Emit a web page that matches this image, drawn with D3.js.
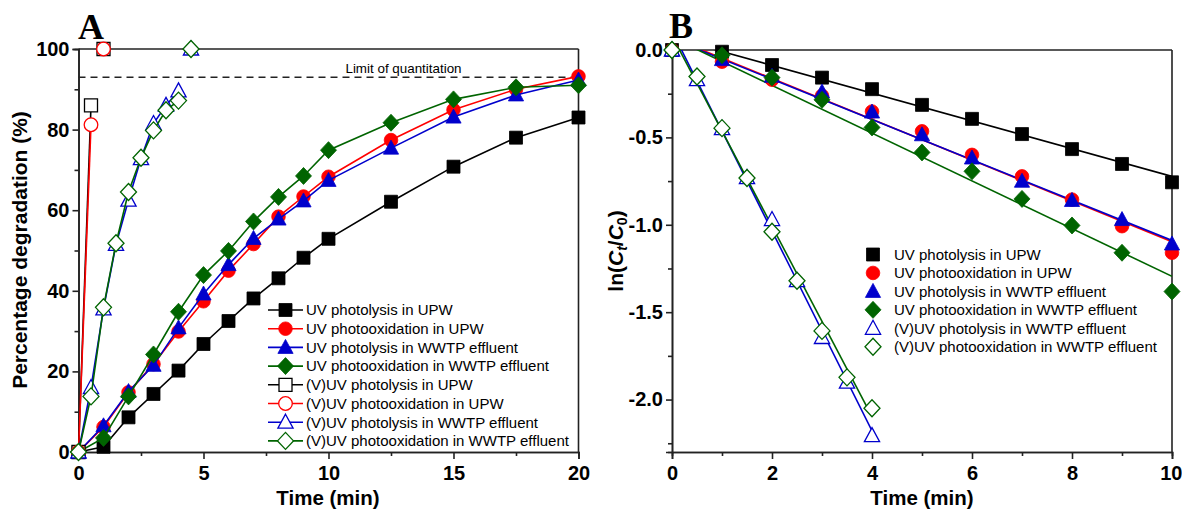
<!DOCTYPE html>
<html><head><meta charset="utf-8">
<script src="https://cdn.jsdelivr.net/npm/d3@7"></script>
<style>
body{margin:0;background:#fff;}
svg text{font-family:"Liberation Sans",Arial,sans-serif;}
svg text.serif{font-family:"Liberation Serif","Times New Roman",serif;}
</style></head>
<body><svg id="c" width="1182" height="511"></svg>
<script>
// ---------- DATA ----------
const seriesNames = ["UV photolysis in UPW","UV photooxidation in UPW","UV photolysis in WWTP effluent","UV photooxidation in WWTP effluent","(V)UV photolysis in UPW","(V)UV photooxidation in UPW","(V)UV photolysis in WWTP effluent","(V)UV photooxidation in WWTP effluent"];
const seriesColors = ["#000000","#ff0000","#0000cc","#006400","#000000","#ff0000","#0000cc","#006400"];
const seriesShapes = ["square","circle","triangle","diamond","square","circle","triangle","diamond"];
const seriesFilled = [true,true,true,true,false,false,false,false];

// Panel A: percentage degradation
const timeA_UV = [0,1,2,3,4,5,6,7,8,9,10,12.5,15,17.5,20];
const uvPhotolysisUPW_A   = [0,1.3,8.6,14.4,20.2,26.8,32.5,38.1,43.1,48.2,52.9,62.1,70.8,78.0,83.0];
const uvPhotooxUPW_A      = [0,6.2,14.8,21.8,29.9,37.4,45.0,51.6,58.4,63.4,68.3,77.4,84.9,90.0,93.2];
const uvPhotolysisWWTP_A  = [0,6.5,15.0,21.5,30.8,39.2,46.5,53.0,57.8,62.3,67.4,75.4,83.1,88.6,92.3];
const uvPhotooxWWTP_A     = [0,3.5,13.8,24.2,34.8,43.9,49.9,57.2,63.3,68.5,74.9,81.7,87.5,90.5,91.0];
const timeA_VUV_UPW = [0,0.5];
const vuvPhotolysisUPW_A  = [0,86.0];
const vuvPhotooxUPW_A     = [0,81.2];
const timeA_VUV = [0,0.5,1,1.5,2,2.5,3,3.5,4];
const vuvPhotolysisWWTP_A = [0,16.0,35.5,51.5,62.5,72.8,81.5,86.0,89.6];
const vuvPhotooxWWTP_A    = [0,13.8,35.9,51.8,64.5,73.0,79.8,84.8,87.2];
// points above the limit of quantitation (plotted at 100 %, unconnected)
const loqTimeUPW = 1, loqTimeWWTP = 4.5, loqValue = 100;
const limitOfQuantitation = 93;

// Panel B: ln(Ct/C0)
const timeB_UV = [0,1,2,3,4,5,6,7,8,9,10];
const uvPhotolysisUPW_B  = [0,-0.010,-0.086,-0.158,-0.224,-0.314,-0.394,-0.481,-0.567,-0.652,-0.757];
const uvPhotooxUPW_B     = [0,-0.067,-0.170,-0.262,-0.352,-0.465,-0.600,-0.723,-0.856,-1.008,-1.160];
const uvPhotolysisWWTP_B = [0,-0.055,-0.150,-0.240,-0.355,-0.485,-0.618,-0.751,-0.861,-0.970,-1.110];
const uvPhotooxWWTP_B    = [0,-0.030,-0.158,-0.285,-0.443,-0.586,-0.694,-0.852,-1.004,-1.160,-1.382];
const timeB_VUV = [0,0.5,1,1.5,2,2.5,3,3.5,4];
const vuvPhotolysisWWTP_B = [0,-0.170,-0.450,-0.730,-0.970,-1.320,-1.645,-1.900,-2.206];
const vuvPhotooxWWTP_B    = [0,-0.152,-0.447,-0.732,-1.040,-1.320,-1.607,-1.873,-2.050];
// linear fits (slope, intercept, end time) for panel B
const fitSlopeB     = [-0.0794,-0.1167,-0.1153,-0.1366,-0.572,-0.545];
const fitInterceptB = [0.0707,0.0700,0.0634,0.0710,0.109,0.082];
const fitEndB       = [10,10,10,10,4,4];
const fitSeriesIdxB = [0,1,2,3,6,7];

const ticksA_X = [0,5,10,15,20], minorA_X = [2.5,7.5,12.5,17.5];
const ticksA_Y = [0,20,40,60,80,100], minorA_Y = [10,30,50,70,90];
const ticksB_X = [0,2,4,6,8,10], minorB_X = [1,3,5,7,9];
const ticksB_Y = [0,-0.5,-1.0,-1.5,-2.0], minorB_Y = [-0.25,-0.75,-1.25,-1.75,-2.25];

// ---------- DRAW ----------
const svg = d3.select("#c");
const xA = d3.scaleLinear([0,20],[78.5,578.5]);
const yA = d3.scaleLinear([0,100],[452,49]);
const xB = d3.scaleLinear([0,10],[672,1172]);
const yB = d3.scaleLinear([-2.3,0],[452,50]);

function shapePath(shape){
  if(shape==="square") return "M-6.5,-6.5H6.5V6.5H-6.5Z";
  if(shape==="circle") return d3.symbol(d3.symbolCircle, Math.PI*6.8*6.8)();
  if(shape==="triangle") return "M0,-8L7.6,6L-7.6,6Z";
  return "M0,-8.5L8,0L0,8.5L-8,0Z";
}
function drawMarkers(g, pts, i){
  g.selectAll(null).data(pts).join("path")
    .attr("d", shapePath(seriesShapes[i]))
    .attr("transform", d=>`translate(${d[0]},${d[1]})`)
    .attr("fill", seriesFilled[i]? seriesColors[i] : "#fff")
    .attr("stroke", seriesColors[i])
    .attr("stroke-width", seriesFilled[i]? 0.8 : 1.3);
}
function drawLine(g, pts, i){
  g.append("path").attr("d", d3.line()(pts)).attr("fill","none")
    .attr("stroke", seriesColors[i]).attr("stroke-width",1.6);
}
const hyphen = f => v => f(v).replace("\u2212","-");
function axes(x, y, tx, mx, ty, my, fmtX, fmtY){
  const [x0,x1] = x.range(), [y0,y1] = y.range();
  const g = svg.append("g");
  const style = a => { a.selectAll("path,line").attr("stroke","#222").attr("stroke-width",1.6);
    a.selectAll("text").attr("font-size",20).attr("font-weight","bold").attr("fill","#000"); };
  const xa = g.append("g").attr("transform",`translate(0,${y0})`).call(d3.axisBottom(x).tickValues(tx).tickSize(7).tickPadding(7).tickFormat(fmtX)).call(style);
  g.append("g").attr("transform",`translate(0,${y0})`).call(d3.axisBottom(x).tickValues(mx).tickSize(4).tickFormat("")).call(style);
  g.append("g").attr("transform",`translate(${x0},0)`).call(d3.axisLeft(y).tickValues(ty).tickSize(6).tickPadding(3).tickFormat(fmtY)).call(style);
  g.append("g").attr("transform",`translate(${x0},0)`).call(d3.axisLeft(y).tickValues(my).tickSize(4).tickFormat("")).call(style);
  g.append("line").attr("x1",x0).attr("x2",x1).attr("y1",y1).attr("y2",y1).attr("stroke","#222").attr("stroke-width",1.6);
  g.append("line").attr("x1",x1).attr("x2",x1).attr("y1",y1).attr("y2",y0).attr("stroke","#222").attr("stroke-width",1.6);
  return xa;
}

// clip path
const defs = svg.append("defs");
defs.append("clipPath").attr("id","clipB").append("rect")
  .attr("x",xB.range()[0]).attr("y",yB.range()[1]).attr("width",xB.range()[1]-xB.range()[0]).attr("height",yB.range()[0]-yB.range()[1]);

// ---- Panel A ----
axes(xA, yA, ticksA_X, minorA_X, ticksA_Y, minorA_Y, hyphen(d3.format("d")), hyphen(d3.format("d")));
const gA = svg.append("g");
gA.append("line").attr("x1",xA(0)).attr("x2",xA(20)).attr("y1",yA(limitOfQuantitation)).attr("y2",yA(limitOfQuantitation))
  .attr("stroke","#222").attr("stroke-width",1.4).attr("stroke-dasharray","7,5");
gA.append("text").attr("x",xA(13)).attr("y",yA(limitOfQuantitation)-4).attr("text-anchor","middle")
  .attr("font-size",13.4).text("Limit of quantitation");

const dataA = [
  [timeA_UV, uvPhotolysisUPW_A],[timeA_UV, uvPhotooxUPW_A],[timeA_UV, uvPhotolysisWWTP_A],[timeA_UV, uvPhotooxWWTP_A],
  [timeA_VUV_UPW, vuvPhotolysisUPW_A],[timeA_VUV_UPW, vuvPhotooxUPW_A],[timeA_VUV, vuvPhotolysisWWTP_A],[timeA_VUV, vuvPhotooxWWTP_A]
];
const loqTimes = [null,null,null,null,loqTimeUPW,loqTimeUPW,loqTimeWWTP,loqTimeWWTP];
dataA.forEach(([t,v],i)=>{
  const pts = t.map((tt,k)=>[xA(tt), yA(v[k])]);
  drawLine(gA, pts, i);
  const mk = pts.slice();
  if(loqTimes[i]!==null) mk.push([xA(loqTimes[i]), yA(loqValue)]);
  drawMarkers(gA, mk, i);
});

// legend A
const legA = svg.append("g");
seriesNames.forEach((n,i)=>{
  const y = 310 + i*18.7;
  legA.append("line").attr("x1",268).attr("x2",303).attr("y1",y).attr("y2",y).attr("stroke",seriesColors[i]).attr("stroke-width",1.6);
  drawMarkers(legA, [[285.5,y]], i);
  legA.append("text").attr("x",306).attr("y",y+5.3).attr("font-size",15).text(n);
});

// ---- Panel B ----
const xaxB = axes(xB, yB, ticksB_X, minorB_X, ticksB_Y, minorB_Y, hyphen(d3.format("d")), hyphen(d3.format(".1f")));
// keep the last x label inside the page
xaxB.selectAll("g.tick text").filter(d => d === 10).attr("text-anchor","end").attr("x", 10);
const gB = svg.append("g");
const gFit = gB.append("g").attr("clip-path","url(#clipB)");
const dataB = [
  [timeB_UV, uvPhotolysisUPW_B],[timeB_UV, uvPhotooxUPW_B],[timeB_UV, uvPhotolysisWWTP_B],[timeB_UV, uvPhotooxWWTP_B],
  [timeB_VUV, vuvPhotolysisWWTP_B],[timeB_VUV, vuvPhotooxWWTP_B]
];
dataB.forEach(([t,v],j)=>{
  const i = fitSeriesIdxB[j];
  const ts = [0, fitEndB[j]];
  drawLine(gFit, ts.map(tt=>[xB(tt), yB(fitSlopeB[j]*tt + fitInterceptB[j])]), i);
  drawMarkers(gB, t.map((tt,k)=>[xB(tt), yB(v[k])]), i);
});
// legend B
const legB = svg.append("g");
fitSeriesIdxB.forEach((i,j)=>{
  const y = 254.5 + j*18.45;
  drawMarkers(legB, [[873,y]], i);
  legB.append("text").attr("x",894).attr("y",y+5.3).attr("font-size",15).text(seriesNames[i]);
});

// ---- Titles ----
svg.append("text").attr("x",328).attr("y",505).attr("text-anchor","middle").attr("font-size",20.5).attr("font-weight","bold").text("Time (min)");
svg.append("text").attr("x",922).attr("y",505).attr("text-anchor","middle").attr("font-size",20.5).attr("font-weight","bold").text("Time (min)");
svg.append("text").attr("transform","translate(27,250) rotate(-90)").attr("text-anchor","middle").attr("font-size",21).attr("font-weight","bold").text("Percentage degradation (%)");
const yl = svg.append("text").attr("transform","translate(623,251) rotate(-90)").attr("text-anchor","middle").attr("font-size",21).attr("font-weight","bold");
yl.append("tspan").text("ln(");
yl.append("tspan").attr("font-style","italic").text("C");
yl.append("tspan").attr("font-style","italic").attr("font-size",14).attr("baseline-shift","-25%").text("t");
yl.append("tspan").text("/");
yl.append("tspan").attr("font-style","italic").text("C");
yl.append("tspan").attr("font-size",14).attr("baseline-shift","-25%").text("0");
yl.append("tspan").text(")");
svg.append("text").attr("class","serif").attr("x",78).attr("y",39).attr("font-size",36).attr("font-weight","bold").text("A");
svg.append("text").attr("class","serif").attr("x",669).attr("y",38).attr("font-size",36).attr("font-weight","bold").text("B");
</script></body></html>
